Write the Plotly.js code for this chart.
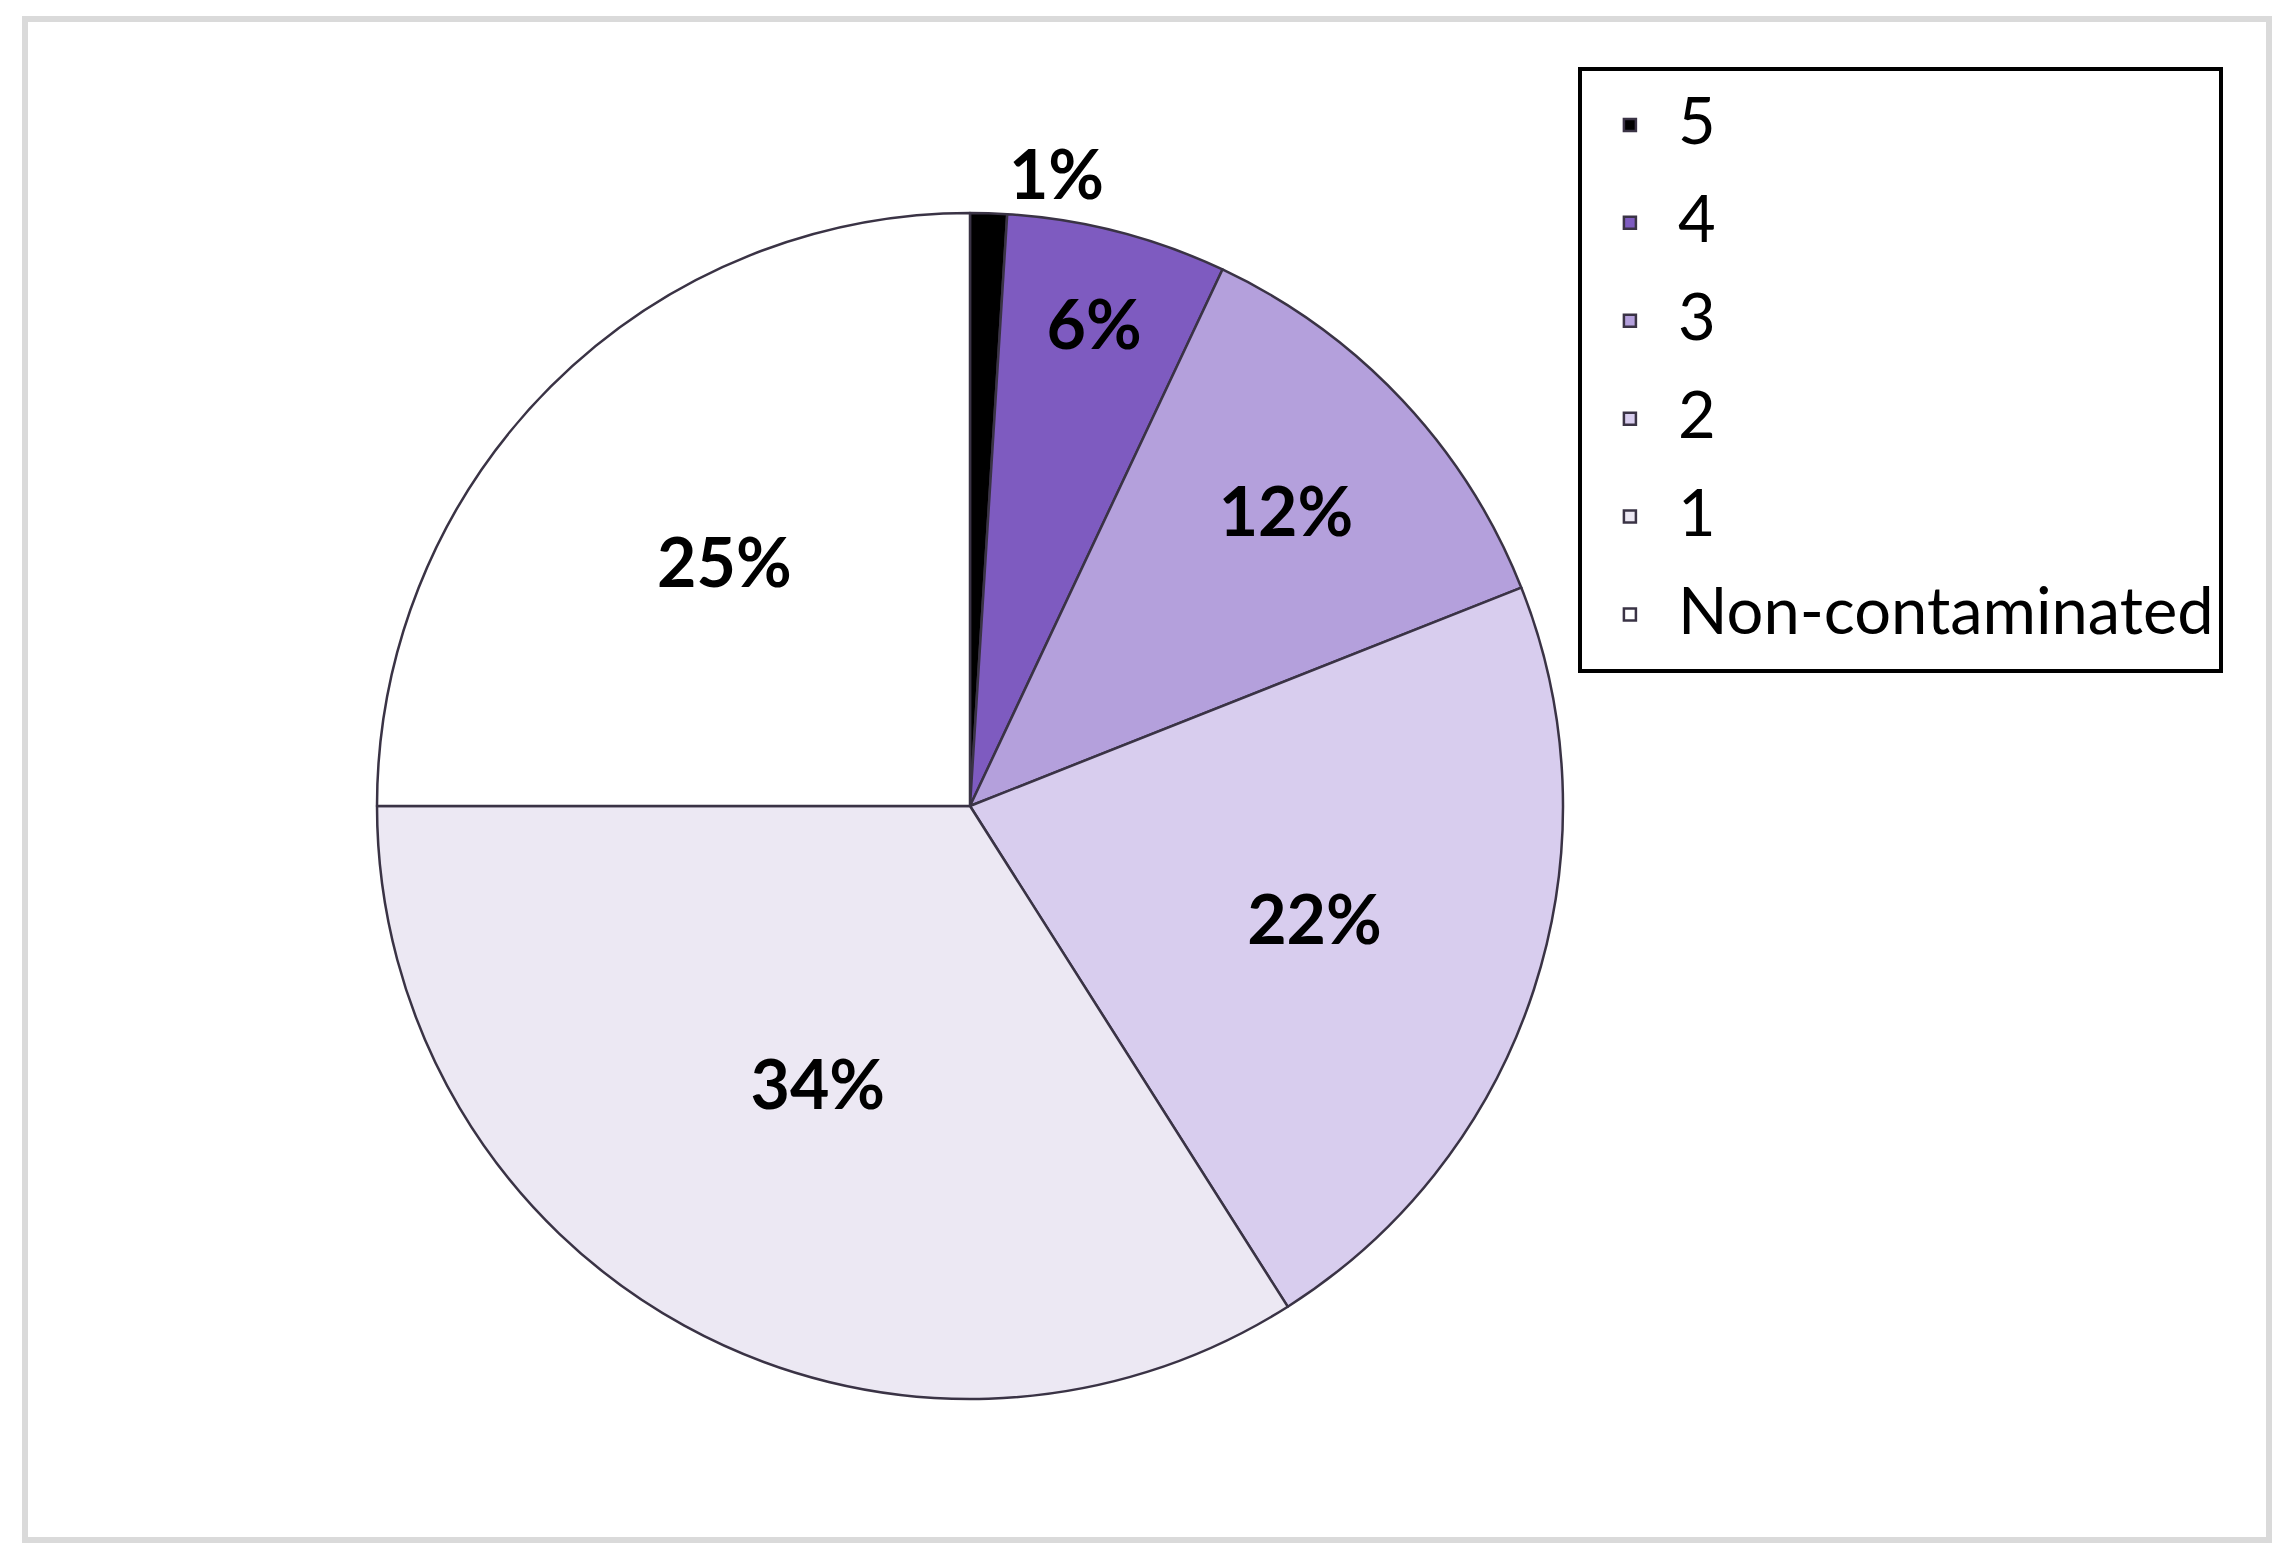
<!DOCTYPE html>
<html>
<head>
<meta charset="utf-8">
<script src="https://cdn.plot.ly/plotly-3.0.1.min.js"></script>
<style>
  html, body { margin: 0; padding: 0; background: #ffffff; }
  #wrap { position: relative; width: 2290px; height: 1565px; }
  #chart { position: absolute; left: 0; top: 0; width: 2290px; height: 1565px; }
  #frame { position: absolute; left: 22px; top: 16px; width: 2238px; height: 1515px;
           border: 6px solid #dadada; pointer-events: none; }
</style>
</head>
<body>
<div id="wrap">
  <div id="chart"></div>
  <div id="frame"></div>
</div>
<script>
// Data
const categories = ["5", "4", "3", "2", "1", "Non-contaminated"];
const shares = [1, 6, 12, 22, 34, 25];
const sliceColors = ["#000000", "#7e5bc0", "#b4a0dc", "#d8cdee", "#ece8f3", "#ffffff"];
const labelPositions = ["outside", "inside", "inside", "inside", "inside", "inside"];

const legendLabels = categories.map(c => '<span style="font-size:65px;baseline-shift:9px">' + c + '</span>');

const labelFont = { family: "Lato, 'Open Sans', sans-serif", size: 68, color: "#000000", weight: 700 };

const trace = {
  type: "pie",
  labels: legendLabels,
  values: shares,
  sort: false,
  direction: "clockwise",
  rotation: 0,
  marker: { colors: sliceColors, line: { color: "#3a3345", width: 2.5 } },
  textinfo: "percent",
  texttemplate: "%{percent:.0%}",
  textposition: labelPositions,
  insidetextorientation: "horizontal",
  textfont: labelFont,
  insidetextfont: labelFont,
  outsidetextfont: labelFont,
  hoverinfo: "label+percent",
  domain: { x: [0.16463, 0.68253], y: [0.10607, 0.86390] },
  automargin: false
};

const layout = {
  width: 2290,
  height: 1565,
  margin: { l: 0, r: 0, t: 0, b: 0 },
  paper_bgcolor: "#ffffff",
  plot_bgcolor: "#ffffff",
  showlegend: true,
  legend: {
    x: 0.9707, xanchor: "right",
    y: 0.9572, yanchor: "top",
    bordercolor: "#000000",
    borderwidth: 4,
    bgcolor: "#ffffff",
    itemwidth: 86,
    font: { family: "Lato, 'Open Sans', sans-serif", size: 73, color: "#000000" },
    traceorder: "normal"
  }
};

Plotly.newPlot("chart", [trace], layout, { displayModeBar: false, staticPlot: true });
</script>
</body>
</html>
